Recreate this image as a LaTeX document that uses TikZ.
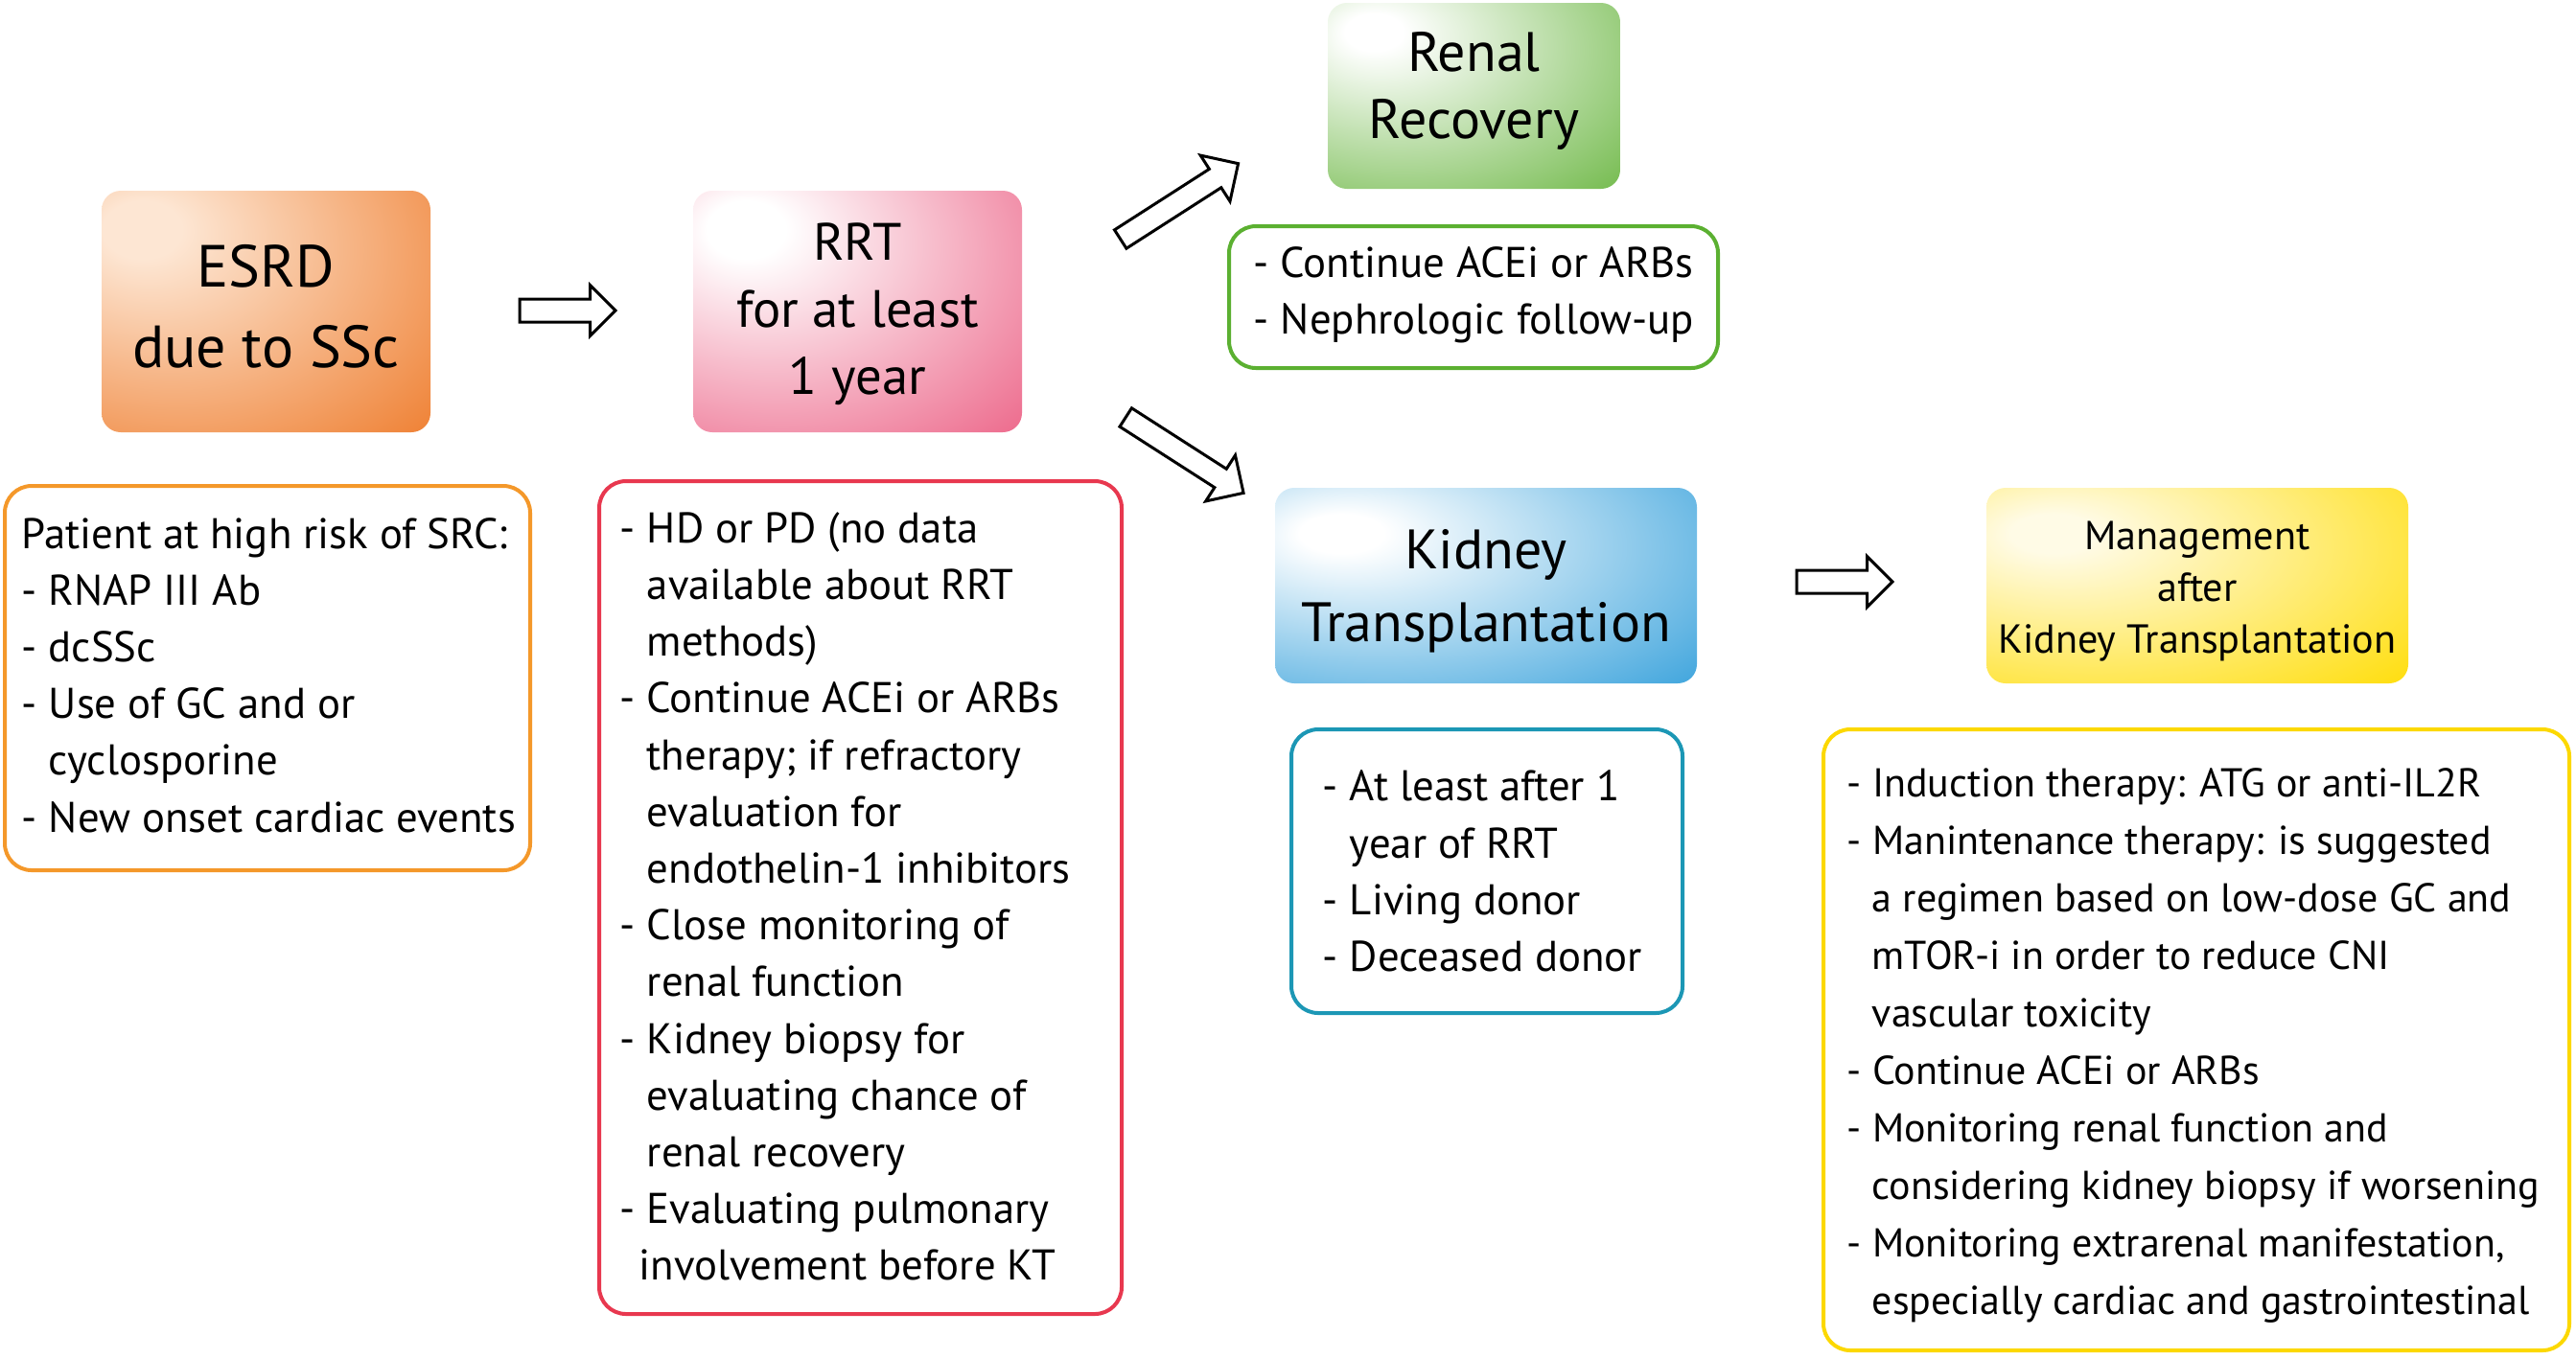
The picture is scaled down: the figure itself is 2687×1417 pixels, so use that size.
\documentclass[tikz,border=0pt]{standalone}
\usepackage{fontspec}
\setmainfont{PT Sans}
\usetikzlibrary{shapes.arrows}
\definecolor{orL}{HTML}{FDE6D3}
\definecolor{orF}{HTML}{EE7B2B}
\definecolor{pkL}{HTML}{FFFFFF}
\definecolor{pkF}{HTML}{E8436E}
\definecolor{grL}{HTML}{FFFFFF}
\definecolor{grF}{HTML}{58AD2A}
\definecolor{blL}{HTML}{FFFFFF}
\definecolor{blF}{HTML}{35A0DB}
\definecolor{ylL}{HTML}{FFFBE6}
\definecolor{ylF}{HTML}{FFDC00}
\definecolor{orLine}{HTML}{F4982A}
\definecolor{rdLine}{HTML}{E8384F}
\definecolor{grLine}{HTML}{5BB031}
\definecolor{blLine}{HTML}{1C97B5}
\definecolor{ylLine}{HTML}{FCD800}
\pgfdeclareradialshading{shOr}{\pgfpoint{-20bp}{18bp}}{color(0bp)=(orL); color(6bp)=(orL); color(52bp)=(orF); color(100bp)=(orF)}
\pgfdeclareradialshading{shPk}{\pgfpoint{-18bp}{18bp}}{color(0bp)=(pkL); color(6bp)=(pkL); color(60bp)=(pkF); color(100bp)=(pkF)}
\pgfdeclareradialshading{shGr}{\pgfpoint{-18bp}{18bp}}{color(0bp)=(grL); color(5bp)=(grL); color(58bp)=(grF); color(100bp)=(grF)}
\pgfdeclareradialshading{shBl}{\pgfpoint{-18bp}{14bp}}{color(0bp)=(blL); color(5bp)=(blL); color(50bp)=(blF); color(100bp)=(blF)}
\pgfdeclareradialshading{shYl}{\pgfpoint{-18bp}{14bp}}{color(0bp)=(ylL); color(5bp)=(ylL); color(50bp)=(ylF); color(100bp)=(ylF)}
\newcommand\ind{\hspace*{7pt}}
\begin{document}
\begin{tikzpicture}[x=0.25pt,y=-0.25pt,
  headbox/.style={rectangle, rounded corners=5pt, inner sep=0pt, align=center},
  outbox/.style={rectangle, rounded corners=7pt, line width=1pt, inner sep=0pt, fill=white},
  txt/.style={inner sep=0pt, align=left, anchor=west, font=\fontsize{11.2}{14.8}\selectfont},
  barrow/.style={single arrow, draw=black, line width=0.75pt, fill=white, inner sep=0pt, single arrow tip angle=90},
  harrow/.style={barrow, minimum height=25pt, inner ysep=2.625pt, single arrow head extend=3.6pt},
  darrow/.style={barrow, minimum height=36.5pt, inner ysep=2.5pt, single arrow head extend=4.25pt}]
\useasboundingbox (0,0) rectangle (2687,1417);
% heading boxes
\node[headbox, shading=shOr, minimum width=85.75pt, minimum height=63pt] (esrd) at (277.5,325) {};
\node[font=\fontsize{15.5}{21}\selectfont, align=center, inner sep=0pt] (esrdT) at ([yshift=1.3pt]esrd.center) {ESRD\\due to SSc};
\node[headbox, shading=shPk, minimum width=85.75pt, minimum height=63pt] (rrt) at (894.5,325) {};
\node[font=\fontsize{13.7}{17.5}\selectfont, align=center, inner sep=0pt] (rrtT) at ([yshift=-0.6pt]rrt.center) {RRT\\for at least\\1 year};
\node[headbox, shading=shGr, minimum width=76.25pt, minimum height=48.5pt] (renal) at (1537.5,100) {};
\node[font=\fontsize{14.5}{17.5}\selectfont, align=center, inner sep=0pt] (renalT) at ([yshift=1.4pt]renal.center) {Renal\\Recovery};
\node[headbox, shading=shBl, minimum width=110pt, minimum height=51pt] (kt) at (1550,611) {};
\node[font=\fontsize{14.5}{18.9}\selectfont, align=center, inner sep=0pt] (ktT) at ([yshift=-1.5pt]kt.center) {Kidney\\Transplantation};
\node[headbox, shading=shYl, minimum width=110pt, minimum height=51pt] (mgmt) at (2292,611) {};
\node[font=\fontsize{10.55}{13.5}\selectfont, align=center, inner sep=0pt] (mgmtT) at ([yshift=-1.4pt]mgmt.center) {Management\\after\\Kidney Transplantation};
% block arrows
\node[harrow] (a1) at (586,324) {};
\node[harrow] (a4) at (1918,607) {};
\node[darrow, rotate=32.7] (a2) at (1225.3,213.2) {};
\node[darrow, rotate=-32.7] (a3) at (1230.8,471.8) {};
% outline boxes
\node[outbox, draw=orLine, minimum width=137pt, minimum height=100.25pt] (orBox) at (279,707.5) {};
\node[outbox, draw=rdLine, minimum width=136.25pt, minimum height=217.25pt] (rdBox) at (897.5,936.5) {};
\node[outbox, draw=grLine, minimum width=127.5pt, minimum height=37pt] (grBox) at (1537,310) {};
\node[outbox, draw=blLine, minimum width=102pt, minimum height=74pt] (blBox) at (1551,909) {};
\node[outbox, draw=ylLine, minimum width=194.5pt, minimum height=162pt] (ylBox) at (2291,1085) {};
% texts
\node[txt] (orTxt) at ([xshift=4.75pt,yshift=0.8pt]orBox.west) {Patient at high risk of SRC:\\- RNAP III Ab\\- dcSSc\\- Use of GC and or\\\ind cyclosporine\\- New onset cardiac events};
\node[txt] (rdTxt) at ([xshift=5.75pt,yshift=0.3pt]rdBox.west) {- HD or PD (no data\\\ind available about RRT\\\ind methods)\\- Continue ACEi or ARBs\\\ind therapy; if refractory\\\ind evaluation for\\\ind endothelin-1 inhibitors\\- Close monitoring of\\\ind renal function\\- Kidney biopsy for\\\ind evaluating chance of\\\ind renal recovery\\- Evaluating pulmonary\\\hspace*{5pt}involvement before KT};
\node[txt] (grTxt) at ([xshift=6.75pt,yshift=0.5pt]grBox.west) {- Continue ACEi or ARBs\\- Nephrologic follow-up};
\node[txt] (blTxt) at ([xshift=8.5pt]blBox.west) {- At least after 1\\\ind year of RRT\\- Living donor\\- Deceased donor};
\node[txt, font=\fontsize{10.5}{15}\selectfont] (ylTxt) at ([xshift=6.5pt,yshift=-1.6pt]ylBox.west) {- Induction therapy: ATG or anti-IL2R\\- Manintenance therapy: is suggested\\\hspace*{6.5pt}a regimen based on low-dose GC and\\\hspace*{6.5pt}mTOR-i in order to reduce CNI\\\hspace*{6.5pt}vascular toxicity\\- Continue ACEi or ARBs\\- Monitoring renal function and\\\hspace*{6.5pt}considering kidney biopsy if worsening\\- Monitoring extrarenal manifestation,\\\hspace*{6.5pt}especially cardiac and gastrointestinal};
\end{tikzpicture}
\end{document}
